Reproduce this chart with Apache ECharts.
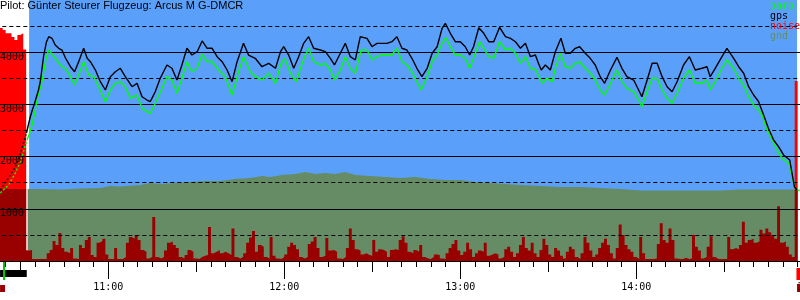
<!DOCTYPE html>
<html><head><meta charset="utf-8">
<script src="https://cdn.jsdelivr.net/npm/echarts@6/dist/echarts.min.js"></script>
<style>html,body{margin:0;padding:0;background:#fff}#c{width:800px;height:300px}</style>
</head><body><div id="c"></div>
<script>
// ---------- DATA (times in minutes after midnight, altitudes in m) ----------
const chartTitle = 'Pilot: Günter Steurer Flugzeug: Arcus M G-DMCR';
const legendNames = ['baro', 'gps', 'noise', 'gnd'];

const flight = [633.0, 894.8];           // sky background (in flight)
const recStart = [624.1, 624.8];         // green marker
const motorRun = [623.1, 632.2];         // black bar
const enlLeft = [623.1, 624.8];          // dark red flag
const enlRight = [894.8, 895.8];         // dark red flag
const landing = [894.6, 895.8];          // red flag

const gpsPreTime = [623.2, 625.5, 627.7, 629.4, 631.1, 632.1];
const gpsPreAlt  = [1360, 1552, 1743, 1935, 2261, 2452];
const baroPreTime = [623.2, 626.0, 628.3, 630.0, 632.3];
const baroPreAlt  = [1303, 1456, 1686, 1897, 2318];

const gpsTime = [632.1,632.9,633.4,634.1,634.8,635.5,636.2,636.8,638.0,638.9,
 639.7,640.8,641.9,643.1,644.2,645.4,647.1,648.5,649.9,651.6,
 652.8,653.9,655.6,657.3,659.0,660.7,662.4,664.1,665.8,668.1,
 669.8,671.5,673.2,674.3,676.0,677.7,680.0,681.7,683.4,685.1,
 686.8,688.5,690.3,692.0,693.7,695.4,697.1,698.8,700.5,702.2,
 703.9,706.1,707.8,710.1,712.4,714.7,717.0,718.7,719.8,721.5,
 723.2,724.9,726.6,728.3,730.0,732.3,734.0,735.7,737.1,739.1,
 740.8,742.5,744.2,745.9,748.2,749.9,751.6,753.3,755.0,756.7,
 758.4,760.1,761.8,763.5,765.2,766.9,768.7,770.4,772.1,773.8,
 774.9,776.6,778.3,780.0,781.7,783.2,784.5,786.3,788.0,789.7,
 791.4,793.4,795.4,797.1,798.8,800.5,802.2,803.9,805.6,806.6,
 807.6,809.0,810.7,812.4,814.3,815.8,817.5,819.2,820.7,822.6,
 824.3,826.0,827.7,829.2,831.2,833.4,835.1,836.8,839.1,840.8,
 841.9,843.7,845.4,847.1,848.8,850.5,852.2,853.9,856.1,858.1,
 860.1,862.4,864.1,865.2,866.9,869.2,870.9,873.2,874.9,876.6,
 878.3,880.0,881.7,883.4,885.0,886.8,888.5,890.2,892.3,893.1,
 893.9,894.8];
const gpsAlt = [2452,2644,2759,2893,3008,3142,3276,3429,3946,4195,
 4297,4266,4138,4075,4042,3889,3722,3626,3818,4075,
 3883,3818,3659,3435,3276,3531,3626,3692,3531,3339,
 3404,3147,3084,3052,3243,3500,3755,3692,3467,3755,
 4075,3946,4010,4215,4075,4075,3914,3818,3659,3435,
 3818,4170,3946,3883,3722,3787,3692,4010,4105,3946,
 3692,3914,4170,4297,4075,4042,4010,3883,3755,3979,
 4170,3914,3851,4297,4266,4105,4170,4170,4170,4201,
 4297,4075,4042,3883,3692,3531,3692,3979,4105,4458,
 4554,4362,4201,4201,4105,3946,4105,4469,4362,4201,
 4201,4477,4297,4266,4201,4075,4170,3914,3946,3793,
 3659,3755,3659,4010,4266,3979,3979,4075,4105,3979,
 3883,3755,3531,3404,3659,3902,3692,3531,3467,3276,
 3147,3467,3787,3787,3531,3339,3243,3435,3755,3914,
 3659,3692,3722,3531,3692,3914,4075,3883,3722,3596,
 3339,3180,3052,2797,2548,2318,2190,2031,1935,1680,
 1423,1360];

const baroTime = [632.3,633.2,634.0,635.1,635.9,636.6,637.5,638.0,638.8,639.7,
 641.9,644.2,645.4,647.1,648.5,649.9,651.6,653.3,655.0,656.7,
 659.0,660.7,662.4,664.1,665.8,667.5,669.8,671.5,674.3,676.0,
 678.3,680.0,681.7,683.4,685.1,686.8,688.5,690.3,692.0,693.7,
 695.4,697.6,699.9,702.2,704.4,706.1,708.4,710.1,712.4,714.7,
 717.0,718.7,720.1,722.1,724.1,725.5,727.2,728.3,730.0,732.3,
 734.0,735.7,737.1,739.1,740.8,742.5,744.2,746.2,748.2,749.9,
 751.6,753.3,755.0,756.7,758.4,760.1,761.8,763.5,765.2,766.6,
 768.7,770.4,772.1,773.8,775.1,776.6,778.3,780.0,781.7,783.2,
 784.5,786.6,788.0,789.7,791.4,793.4,795.4,797.1,798.8,800.5,
 802.2,803.9,805.6,807.9,809.6,811.3,812.4,814.1,815.8,817.5,
 819.2,820.7,822.6,824.3,826.0,827.7,829.2,831.2,833.4,835.1,
 836.8,839.1,840.8,841.9,843.7,845.4,847.1,848.8,850.5,852.2,
 853.9,856.1,858.1,860.1,862.4,864.1,865.2,866.9,869.2,870.9,
 873.2,874.9,876.6,878.3,880.0,881.7,882.9,884.3,886.3,888.0,
 889.7,892.0,893.1,894.2,895.6];
const baroAlt = [2318,2452,2605,2893,3142,3276,3467,3626,3883,4042,
 3883,3722,3692,3531,3372,3563,3818,3563,3531,3339,
 3052,3276,3404,3435,3339,3117,3180,2925,2829,3021,
 3308,3531,3467,3213,3500,3818,3626,3692,3960,3818,
 3818,3659,3531,3180,3626,3914,3626,3531,3467,3596,
 3404,3755,3883,3596,3435,3692,3946,4075,3818,3755,
 3787,3659,3467,3659,3914,3692,3596,4042,4042,3851,
 3914,3946,3946,3946,4075,3818,3755,3626,3435,3276,
 3531,3818,3946,4170,4278,4105,3946,3946,3883,3692,
 3883,4201,4075,3914,3883,4201,4042,4075,3979,3787,
 3914,3692,3678,3404,3500,3435,3692,3979,3722,3692,
 3787,3818,3692,3596,3467,3276,3180,3404,3659,3435,
 3308,3243,3084,2956,3243,3500,3500,3276,3117,3021,
 3213,3500,3659,3404,3404,3467,3276,3435,3692,3851,
 3692,3500,3372,3147,2988,2893,2797,2548,2318,2126,
 1967,1872,1615,1393,1341];

const gndTime = [632.5,636.8,643.7,650.5,657.3,660.7,664.1,670.9,674.3,677.7,
 682.9,688.0,693.1,698.2,703.3,708.4,712.5,715.2,719.3,723.8,
 727.2,730.6,734.0,737.4,740.8,744.2,749.3,754.4,759.6,764.7,
 769.8,774.9,780.0,785.1,790.2,795.4,800.5,807.3,814.1,820.9,
 827.7,834.6,841.4,848.2,855.0,861.8,868.6,875.5,882.3,889.1,894.8];
const gndAlt = [1379,1379,1370,1389,1398,1437,1427,1456,1494,1475,
 1494,1513,1533,1533,1571,1590,1628,1609,1648,1667,
 1705,1667,1686,1667,1705,1648,1628,1609,1590,1609,
 1571,1552,1552,1513,1494,1475,1456,1437,1418,1418,
 1398,1379,1352,1352,1352,1352,1352,1370,1370,1370,1370];

// engine noise level (0..1000), one value per minute starting at noiseStart
const noiseStart = 623;
const noise = [893,885,873,873,858,847,866,873,810,40,
 42,8,8,8,8,8,30,42,77,61,
 107,50,35,30,50,10,8,61,50,80,
 92,23,15,70,77,85,25,8,8,50,
 8,8,15,70,92,85,100,80,42,35,
 10,15,169,15,10,15,40,70,75,61,
 50,15,10,23,42,35,10,8,15,20,
 23,130,30,35,42,30,35,30,23,125,
 15,10,15,30,70,90,115,35,61,55,
 15,10,92,20,10,8,15,25,55,70,
 61,45,15,10,15,65,75,92,50,15,
 20,88,40,42,35,10,8,15,50,125,
 80,45,40,25,30,23,20,80,35,45,
 42,35,15,42,45,42,80,95,70,35,
 30,42,35,61,15,10,8,15,25,23,
 10,8,30,50,65,80,40,23,35,70,
 45,15,30,40,35,70,20,25,30,25,
 10,15,45,55,35,15,30,61,92,50,
 40,70,30,15,42,85,61,25,15,50,
 40,20,10,35,55,45,15,8,30,92,
 70,40,15,25,50,70,85,61,30,10,
 50,140,100,61,45,35,15,8,92,30,
 8,8,8,10,65,145,80,70,125,80,
 10,8,8,12,8,10,100,55,40,10,
 15,55,95,15,8,8,8,8,92,45,
 50,45,61,150,70,80,85,70,75,120,
 105,125,110,100,85,210,70,75,55,25,
 15,690,0];

// ---------- COLOURS / STYLE ----------
const C = {sky:'#5aa0fa', gnd:'#658c64', noise:'#ff0000', noiseLow:'#990000', baro:'#00ff00', gps:'#000000', start:'#00c800'};
const legendColors = [C.baro, C.gps, C.noise, C.gnd];
const MONO = 'DejaVu Sans Mono';
const GL = -67.7, GR = -12.3;

const zip = (a, b) => a.map((v, i) => [v, b[i]]);
function gndAt(t) {
  if (t <= gndTime[0]) return gndAlt[0];
  for (let i = 1; i < gndTime.length; i++) {
    if (t <= gndTime[i]) {
      const f = (t - gndTime[i-1]) / (gndTime[i] - gndTime[i-1]);
      return gndAlt[i-1] + f * (gndAlt[i] - gndAlt[i-1]);
    }
  }
  return gndAlt[gndAlt.length - 1];
}
const noiseData = noise.map((v, i) => [noiseStart + i, v]);
// part of the noise bars lying below ground level (noise axis = altitude / 5)
const noiseLowData = noise.map((v, i) => [noiseStart + i, Math.min(v, gndAt(noiseStart + i) / 5)]);
const hhmm = v => Math.floor(v / 60) + ':' + String(Math.round(v % 60)).padStart(2, '0');

const chart = echarts.init(document.getElementById('c'), null, {renderer: 'canvas'});
const areaLine = (name, yi, data, color, z, step) => ({
  name, type: 'line', xAxisIndex: 0, yAxisIndex: yi, data, step, z,
  showSymbol: false, symbol: 'none', silent: true,
  lineStyle: {width: 0}, areaStyle: {color, opacity: 1}, itemStyle: {color}
});
const curve = (name, data, color, z, type) => ({
  name, type: 'line', xAxisIndex: 0, yAxisIndex: 0, data, z,
  showSymbol: false, symbol: 'none', silent: true,
  lineStyle: {width: 1.4, color, type: type || 'solid'}, itemStyle: {color}
});
const stripBox = (t, r0, r1, color) => [{xAxis: t[0], yAxis: r0, itemStyle: {color}}, {xAxis: t[1], yAxis: r1}];
const gridBase = {left: GL, right: GR, containLabel: false, outerBoundsMode: 'none'};

chart.setOption({
  animation: false,
  backgroundColor: '#fff',
  title: {text: chartTitle, left: 0, top: 0, padding: 0,
    textStyle: {fontFamily: 'Liberation Sans', fontSize: 11, fontWeight: 'normal', color: '#000'}},
  legend: {orient: 'vertical', left: 765, top: 1, padding: 0, itemWidth: 0, itemHeight: 10, itemGap: 0,
    icon: 'none', selectedMode: false,
    textStyle: {fontFamily: MONO, fontSize: 10, lineHeight: 10},
    data: legendNames.map((n, i) => ({name: n, textStyle: {color: legendColors[i]}}))},
  grid: [
    Object.assign({top: 0, bottom: 39}, gridBase),
    Object.assign({top: 261, bottom: 0}, gridBase)
  ],
  xAxis: [
    {type: 'value', gridIndex: 0, position: 'bottom', min: 600, max: 900, interval: 5, z: 6,
      axisLine: {show: true, onZero: false, lineStyle: {color: '#000', width: 1}},
      axisTick: {show: true, length: 6, lineStyle: {color: '#000'}},
      axisLabel: {show: false}, splitLine: {show: false}},
    {type: 'value', gridIndex: 0, position: 'bottom', min: 600, max: 900, interval: 30, z: 6,
      axisLine: {show: false, onZero: false}, axisTick: {show: true, length: 11, lineStyle: {color: '#000'}},
      axisLabel: {show: false}, splitLine: {show: false}},
    {type: 'value', gridIndex: 0, position: 'bottom', min: 600, max: 900, interval: 60, z: 6,
      axisLine: {show: false, onZero: false}, axisTick: {show: true, length: 18, lineStyle: {color: '#000'}},
      axisLabel: {show: true, margin: 21, formatter: hhmm, fontFamily: MONO, fontSize: 10, color: '#000'},
      splitLine: {show: false}},
    {type: 'value', gridIndex: 1, position: 'bottom', min: 600, max: 900, show: false}
  ],
  yAxis: [
    {type: 'value', gridIndex: 0, min: 0, max: 5000, interval: 1000, position: 'left', z: 4,
      axisLine: {show: false}, axisTick: {show: false},
      axisLabel: {inside: true, margin: 67.7, verticalAlign: 'top', showMinLabel: false, showMaxLabel: false,
        formatter: v => String(v), fontFamily: MONO, fontSize: 10, color: '#000'},
      splitLine: {show: true, showMinLine: false, showMaxLine: false, lineStyle: {color: '#000', width: 1}}},
    {type: 'value', gridIndex: 0, min: 0, max: 1000, position: 'right', show: false},
    {type: 'value', gridIndex: 0, min: 0, max: 5000, interval: 500, position: 'left', z: 4,
      axisLine: {show: false}, axisTick: {show: false}, axisLabel: {show: false},
      splitLine: {show: true, showMinLine: false, showMaxLine: false, lineStyle: {color: '#000', width: 1, type: [4, 3]}}},
    {type: 'value', gridIndex: 1, min: 0, max: 39, inverse: true, show: false}
  ],
  series: [
    {name: 'sky', type: 'line', xAxisIndex: 0, yAxisIndex: 0, data: [[flight[0], 0]], z: 0,
      symbol: 'none', lineStyle: {width: 0}, silent: true,
      markArea: {silent: true, label: {show: false}, itemStyle: {color: C.sky},
        data: [[{xAxis: flight[0]}, {xAxis: flight[1]}]]}},
    areaLine('noise', 1, noiseData, C.noise, 1, 'end'),
    areaLine('gnd', 0, zip(gndTime, gndAlt), C.gnd, 2),
    areaLine('noiseLow', 1, noiseLowData, C.noiseLow, 3, 'end'),
    curve('baro', zip(baroPreTime, baroPreAlt), C.baro, 5, [2, 2]),
    curve('baro', zip(baroTime, baroAlt), C.baro, 5),
    curve('gps', zip(gpsPreTime, gpsPreAlt), C.gps, 6, [2, 2]),
    curve('gps', zip(gpsTime, gpsAlt), C.gps, 6),
    {name: 'strip', type: 'line', xAxisIndex: 3, yAxisIndex: 3, data: [[600, 0]], z: 10,
      symbol: 'none', lineStyle: {width: 0}, silent: true,
      markArea: {silent: true, label: {show: false},
        data: [
          stripBox(motorRun, 9, 16, '#000'),
          stripBox(recStart, 1, 19, C.start),
          stripBox(enlLeft, 24, 31, C.noiseLow),
          stripBox(landing, 7, 19, C.noise),
          stripBox(enlRight, 23, 31, C.noiseLow)
        ]}}
  ]
});
</script>
</body></html>
